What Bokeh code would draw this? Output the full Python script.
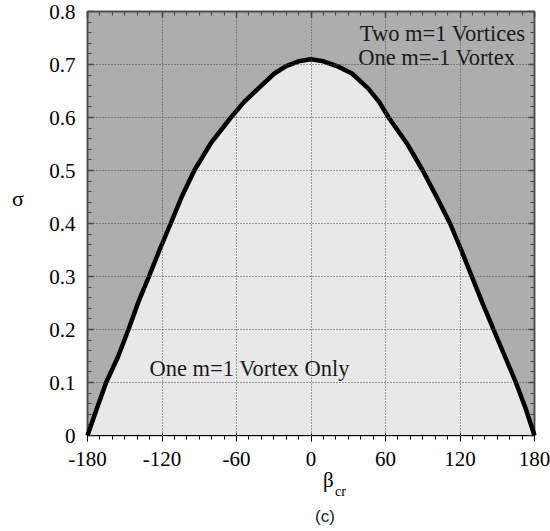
from bokeh.plotting import figure
from bokeh.layouts import column, row
from bokeh.models import (ColumnDataSource, FixedTicker, LinearAxis, Label, Range1d, Div)
from bokeh.embed import file_html
from bokeh.resources import INLINE

# Critical boundary sigma(beta_cr) between the two vortex regimes
beta_cr = [-180, -173, -165, -155.5, -147, -139, -130.5, -122, -113, -104, -94, -80.5,
           -64.5, -54, -41.5, -29.5, -20, -10, 0,
           10, 22, 33, 46, 55, 62.5, 77, 90, 101, 112, 121, 129.5, 138.6, 147, 156,
           165, 173, 180]
sigma = [0.0, 0.047, 0.10, 0.148, 0.20, 0.252, 0.30, 0.35, 0.40, 0.451, 0.50, 0.552,
         0.60, 0.629, 0.657, 0.683, 0.697, 0.706, 0.71,
         0.706, 0.696, 0.683, 0.655, 0.629, 0.60, 0.552, 0.50, 0.451, 0.40, 0.35, 0.30,
         0.247, 0.20, 0.15, 0.10, 0.05, 0.0]

x_ticks = [-180, -120, -60, 0, 60, 120, 180]
x_labels = ["-180", "-120", "-60", "0", "60", "120", "180"]
y_ticks = [0, 0.1, 0.2, 0.3, 0.4, 0.5, 0.6, 0.7, 0.8]
y_labels = ["0", "0.1", "0.2", "0.3", "0.4", "0.5", "0.6", "0.7", "0.8"]
x_minor = list(range(-180, 181, 10))
y_minor = [round(i * 0.02, 2) for i in range(41)]

SERIF = "Liberation Serif"
DARK = "#adadad"
LIGHT = "#e8e8e8"
FRAME = "#4a4a4a"
LEFT_W = 46

p = figure(width=550 - LEFT_W, height=470, output_backend="svg", toolbar_location=None,
           x_range=Range1d(-180, 180), y_range=Range1d(0, 0.8),
           min_border_left=86 - LEFT_W, min_border_right=16, min_border_top=11,
           min_border_bottom=35,
           background_fill_color=DARK, border_fill_color="white",
           outline_line_color=FRAME, outline_line_width=1.5)

src = ColumnDataSource(dict(beta=beta_cr, sigma=sigma))
p.varea(x="beta", y1=0, y2="sigma", source=src, fill_color=LIGHT, level="underlay")

p.xaxis.ticker = FixedTicker(ticks=x_ticks, minor_ticks=x_minor)
p.yaxis.ticker = FixedTicker(ticks=y_ticks, minor_ticks=y_minor)
p.xaxis.major_label_overrides = {t: s for t, s in zip(x_ticks, x_labels)}
p.yaxis.major_label_overrides = {t: s for t, s in zip(y_ticks, y_labels)}

for ax in (p.xaxis[0], p.yaxis[0]):
    ax.major_label_text_font = SERIF
    ax.major_label_text_font_size = "21px"
    ax.major_label_text_color = "black"
p.xaxis.major_label_standoff = 10
p.yaxis.major_label_standoff = 12

# mirrored axes on the top and right carry only tick marks
top = LinearAxis(ticker=FixedTicker(ticks=x_ticks, minor_ticks=x_minor),
                 major_label_overrides={t: "" for t in x_ticks})
right = LinearAxis(ticker=FixedTicker(ticks=y_ticks, minor_ticks=y_minor),
                   major_label_overrides={t: "" for t in y_ticks})
p.add_layout(top, "above")
p.add_layout(right, "right")

for ax in (p.xaxis[0], p.yaxis[0], top, right):
    ax.axis_line_color = FRAME
    ax.axis_line_width = 1.5
    ax.major_tick_in = 6
    ax.major_tick_out = 0
    ax.minor_tick_in = 4
    ax.minor_tick_out = 0
    ax.major_tick_line_color = FRAME
    ax.minor_tick_line_color = FRAME
    ax.major_tick_line_width = 1.5
    ax.minor_tick_line_width = 1.2
top.major_label_standoff = 0
right.major_label_standoff = 0

p.grid.grid_line_color = "#4d4d4d"
p.grid.grid_line_dash = "1 2"
p.grid.grid_line_width = 1
p.grid.level = "overlay"

p.line(x="beta", y="sigma", source=src, line_color="black", line_width=4.5, level="overlay")


def note(x, y, text, size, align="left"):
    # x, y in pixels from the bottom-left corner of the plot frame
    p.add_layout(Label(x=x, y=y, x_units="screen", y_units="screen", text=text,
                       text_font=SERIF, text_font_size=size, text_align=align,
                       text_baseline="middle", text_color="#1a1a1a"))


# region annotations
note(438, 402, "Two m=1 Vortices", "22.5px", align="right")
note(428, 378, "One m=-1 Vortex", "22.5px", align="right")
note(62, 67, "One m=1 Vortex Only", "22.5px")

# y-axis title, set upright to the left of the frame
sigma_title = Div(width=LEFT_W, height=470, margin=0, text=(
    "<div style='position:relative;width:46px;height:470px;'>"
    "<span style=\"position:absolute;left:12px;top:188px;font-family:'Liberation Serif';"
    "font-size:22px;line-height:22px;color:black;\">σ</span></div>"))

# x-axis title with subscript, and the panel tag
bottom = Div(width=550, height=61, margin=0, text=(
    "<div style='position:relative;width:550px;height:61px;'>"
    "<span style=\"position:absolute;left:323px;top:0px;font-family:'Liberation Serif';"
    "font-size:21px;line-height:21px;color:black;\">β</span>"
    "<span style=\"position:absolute;left:335px;top:15px;font-family:'Liberation Serif';"
    "font-size:14px;line-height:14px;color:black;\">cr</span>"
    "<span style=\"position:absolute;left:315px;top:38px;font-family:'Liberation Sans';"
    "font-size:17px;line-height:17px;color:#222222;\">(c)</span></div>"))

layout = column(row(sigma_title, p, spacing=0), bottom, spacing=0)
open("out.html", "w").write(file_html(layout, INLINE))
